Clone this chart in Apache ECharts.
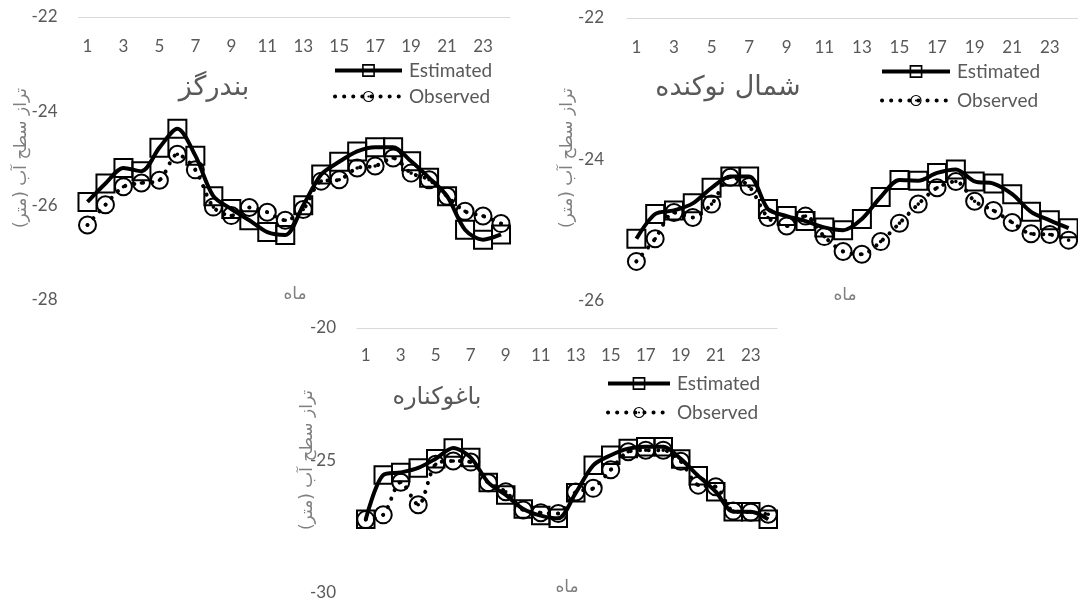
<!DOCTYPE html>
<html>
<head>
<meta charset="utf-8">
<script src="https://cdn.jsdelivr.net/npm/echarts@6/dist/echarts.min.js"></script>
<style>
html,body{margin:0;padding:0;background:#fff;}
#chart{width:1078px;height:604px;}
</style>
</head>
<body>
<div id="chart"></div>
<script>
// ---- data ----
const months = ['1','2','3','4','5','6','7','8','9','10','11','12','13','14','15','16','17','18','19','20','21','22','23','24'];

const bandarGazEstimated = [-25.92,-25.53,-25.20,-25.27,-24.77,-24.37,-24.94,-25.80,-26.07,-26.31,-26.56,-26.62,-25.99,-25.34,-25.07,-24.85,-24.76,-24.76,-25.06,-25.41,-25.80,-26.51,-26.72,-26.61];
const bandarGazObserved  = [-26.41,-25.98,-25.60,-25.52,-25.46,-24.91,-25.24,-26.03,-26.21,-26.04,-26.14,-26.31,-26.08,-25.48,-25.45,-25.20,-25.16,-24.99,-25.31,-25.45,-25.80,-26.12,-26.22,-26.38];

const nokandehEstimated = [-25.12,-24.77,-24.72,-24.62,-24.40,-24.24,-24.24,-24.70,-24.80,-24.87,-24.96,-25.00,-24.84,-24.53,-24.29,-24.30,-24.19,-24.14,-24.31,-24.34,-24.49,-24.74,-24.86,-24.97];
const nokandehObserved  = [-25.44,-25.12,-24.75,-24.82,-24.63,-24.25,-24.38,-24.82,-24.94,-24.80,-25.09,-25.30,-25.34,-25.16,-24.90,-24.63,-24.40,-24.31,-24.59,-24.72,-24.89,-25.05,-25.06,-25.14];

const baghooEstimated = [-27.22,-25.55,-25.45,-25.28,-24.93,-24.53,-24.89,-25.83,-26.30,-26.83,-27.08,-27.18,-26.22,-25.18,-24.80,-24.55,-24.48,-24.48,-24.94,-25.58,-26.18,-26.93,-26.93,-27.22];
const baghooObserved  = [-27.23,-27.05,-25.82,-26.67,-25.14,-25.02,-25.06,-25.84,-26.18,-26.87,-26.97,-27.00,-26.19,-26.05,-25.35,-24.67,-24.61,-24.61,-25.03,-25.93,-25.99,-26.91,-26.95,-27.03];

const panelTitles = ['بندرگز', 'شمال نوکنده', 'باغوکناره'];
const yAxisTitle = '\u200Fتراز سطح آب (متر)\u200F';
const xAxisTitle = 'ماه';
const seriesNames = ['Estimated', 'Observed'];
const yRanges = [[-28, -22, 2], [-26, -22, 2], [-30, -20, 5]];

// ---- layout / style ----
const grids = [
  {left: 78.5, top: 17, width: 431.5, height: 283},
  {left: 627, top: 18, width: 452, height: 283},
  {left: 357, top: 328, width: 420, height: 265}
];
const panelData = [
  [bandarGazEstimated, bandarGazObserved],
  [nokandehEstimated, nokandehObserved],
  [baghooEstimated, baghooObserved]
];
const labelFont = 'Lato, "DejaVu Sans", sans-serif';
const faFont = '"DejaVu Sans", sans-serif';
const grayText = '#595959';
const ringDot = 'path://M10,0 A10,10 0 1,1 10,20 A10,10 0 1,1 10,0 Z M10,2.1 A7.9,7.9 0 1,0 10,17.9 A7.9,7.9 0 1,0 10,2.1 Z M10,8.1 A1.9,1.9 0 1,1 10,11.9 A1.9,1.9 0 1,1 10,8.1 Z';
const estLine = {color: '#000', width: 4};
const obsLine = {color: '#000', width: 4, type: [0.1, 9], cap: 'round'};

const xAxes = grids.map((g, i) => ({
  type: 'category', gridIndex: i, data: months, position: 'top', boundaryGap: true,
  axisLine: {show: true, lineStyle: {color: '#d9d9d9', width: 1}},
  axisTick: {show: false}, splitLine: {show: false},
  axisLabel: {inside: true, interval: 1, margin: i === 2 ? 19 : 21, color: grayText, fontSize: 17, fontFamily: labelFont}
}));
const yAxes = grids.map((g, i) => ({
  type: 'value', gridIndex: i, min: yRanges[i][0], max: yRanges[i][1], interval: yRanges[i][2],
  axisLine: {show: false}, axisTick: {show: false}, splitLine: {show: false},
  axisLabel: {margin: i === 1 ? 23 : 21, color: grayText, fontSize: 17, fontFamily: labelFont}
}));

const series = [];
panelData.forEach((pair, i) => {
  series.push({
    name: seriesNames[1], type: 'line', xAxisIndex: i, yAxisIndex: i, data: pair[1],
    smooth: 0.3, showAllSymbol: true, symbol: ringDot, symbolSize: 19,
    lineStyle: obsLine, itemStyle: {color: '#000'}, z: 2
  });
  series.push({
    name: seriesNames[0], type: 'line', xAxisIndex: i, yAxisIndex: i, data: pair[0],
    smooth: 0.3, showAllSymbol: true, symbol: 'rect', symbolSize: i === 2 ? 17.5 : 18,
    lineStyle: estLine,
    itemStyle: {color: 'rgba(0,0,0,0)', borderColor: '#000', borderWidth: 2}, z: 3
  });
});

const legendPos = [
  {left: 328, top: 56, itemWidth: 67, gap: 7},
  {left: 875, top: 57, itemWidth: 68, gap: 10},
  {left: 601, top: 369, itemWidth: 62, gap: 10}
];
const legends = legendPos.map(p => ({
  data: [
    {name: seriesNames[0], lineStyle: estLine, itemStyle: {color: 'rgba(0,0,0,0)', borderColor: '#000', borderWidth: 1.6}},
    {name: seriesNames[1], lineStyle: obsLine, itemStyle: {color: '#000'}}
  ],
  orient: 'vertical', left: p.left, top: p.top, itemWidth: p.itemWidth, itemHeight: 14,
  itemGap: p.gap, selectedMode: false,
  textStyle: {color: grayText, fontSize: 19, fontFamily: labelFont, padding: [0, 0, 0, 2]}
}));

const titlePos = [[214, 88, 27], [728, 88, 27], [437, 398, 24]];
const yNamePos = [[22, 158], [568, 158], [308, 460]];
const xNamePos = [[295, 295], [845, 296], [567, 588]];
const graphics = [];
for (let i = 0; i < 3; i++) {
  graphics.push({type: 'text', x: titlePos[i][0], y: titlePos[i][1], silent: true,
    style: {text: panelTitles[i], font: titlePos[i][2] + 'px ' + faFont, fill: grayText, align: 'center', verticalAlign: 'middle', textAlign: 'center', textVerticalAlign: 'middle'}});
  graphics.push({type: 'text', x: yNamePos[i][0], y: yNamePos[i][1], rotation: Math.PI / 2, silent: true,
    style: {text: yAxisTitle, font: '17px ' + faFont, fill: '#7f7f7f', align: 'center', verticalAlign: 'middle', textAlign: 'center', textVerticalAlign: 'middle'}});
  graphics.push({type: 'text', x: xNamePos[i][0], y: xNamePos[i][1], silent: true,
    style: {text: xAxisTitle, font: '17px ' + faFont, fill: '#7f7f7f', align: 'center', verticalAlign: 'middle', textAlign: 'center', textVerticalAlign: 'middle'}});
}

const chart = echarts.init(document.getElementById('chart'));
chart.setOption({
  animation: false,
  backgroundColor: '#fff',
  grid: grids,
  xAxis: xAxes,
  yAxis: yAxes,
  legend: legends,
  series: series,
  graphic: graphics
});
</script>
</body>
</html>
